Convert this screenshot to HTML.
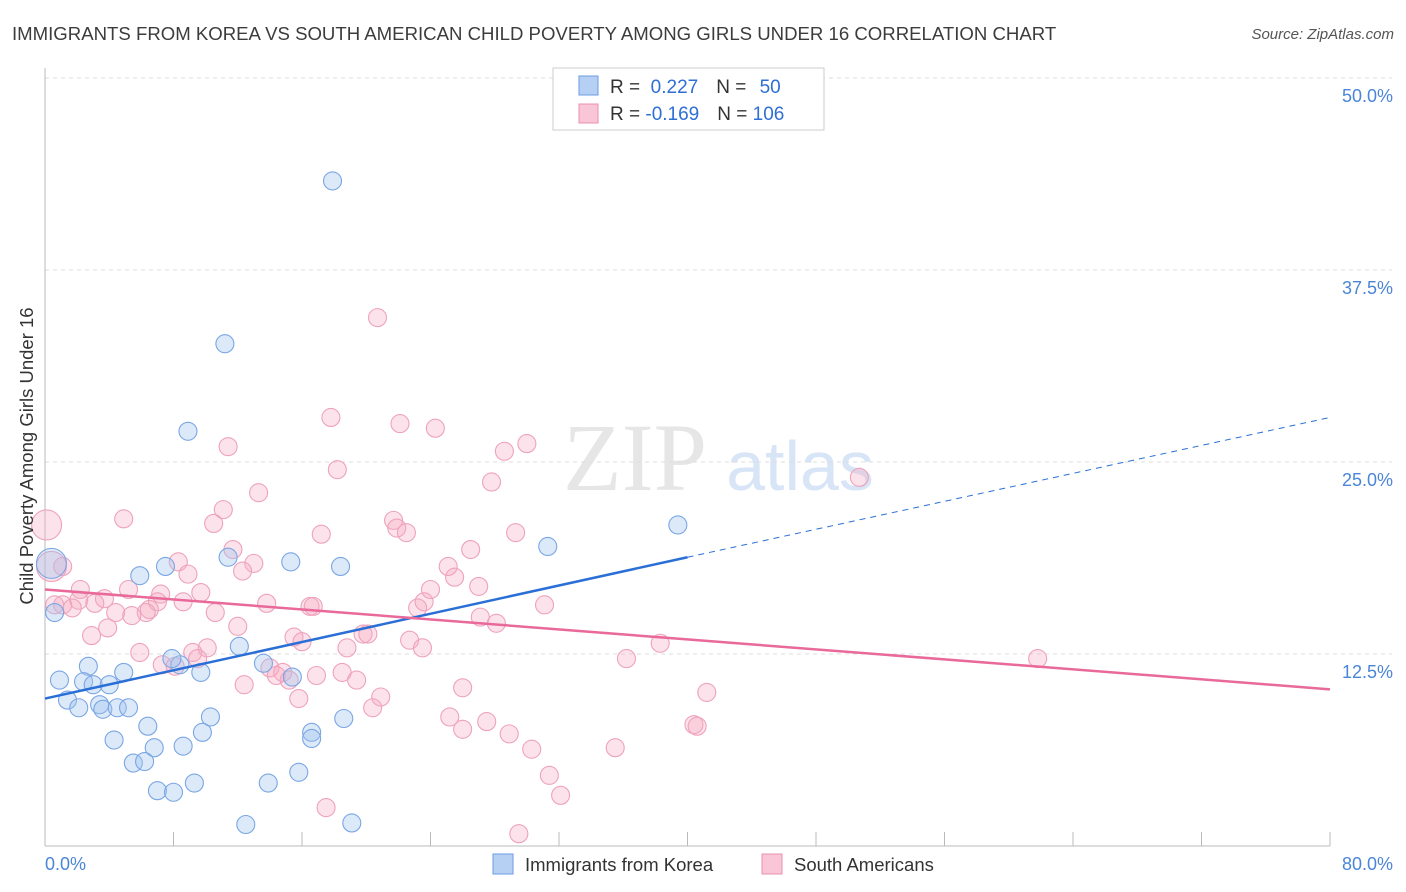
<!DOCTYPE html>
<html><head><meta charset="utf-8"><style>
body{margin:0;background:#fff;font-family:"Liberation Sans",sans-serif}
svg{display:block}
</style></head><body>
<svg id="chart" width="1406" height="892" xmlns="http://www.w3.org/2000/svg" font-family="Liberation Sans, sans-serif">
<text x="12" y="40" font-size="18.6" fill="#3c3c3c">IMMIGRANTS FROM KOREA VS SOUTH AMERICAN CHILD POVERTY AMONG GIRLS UNDER 16 CORRELATION CHART</text>
<text x="1394" y="39" font-size="15" fill="#555" text-anchor="end" font-style="italic">Source: ZipAtlas.com</text>
<g><text x="635" y="490" font-size="96" fill="#e6e6e6" text-anchor="middle" font-family="Liberation Serif, serif">ZIP</text><text x="800" y="490" font-size="70" fill="#d8e5f6" text-anchor="middle">atlas</text></g>
<g id="grid"></g><g id="axes"></g><g id="marks"></g><g id="trends"></g>
<text transform="translate(33,456) rotate(-90)" font-size="18.5" fill="#333" text-anchor="middle">Child Poverty Among Girls Under 16</text>
<g>
<rect x="553" y="68" width="271" height="62" fill="#fff" stroke="#ccc"/>
<rect x="579" y="76" width="19" height="19" fill="#b5d0f3" stroke="#6a9be0"/>
<rect x="579" y="104" width="19" height="19" fill="#f8c6d6" stroke="#e890ae"/>
<text x="610" y="93" font-size="19" fill="#333">R = <tspan fill="#2e6fd6">&#160;0.227</tspan><tspan dx="18">N = </tspan><tspan fill="#2e6fd6" dx="8">50</tspan></text>
<text x="610" y="120" font-size="19" fill="#333">R = <tspan fill="#2e6fd6">-0.169</tspan><tspan dx="18">N = </tspan><tspan fill="#2e6fd6">106</tspan></text>
</g>
<g>
<rect x="493" y="854" width="20" height="20" fill="#b5d0f3" stroke="#6a9be0"/>
<text x="525" y="871" font-size="18.5" fill="#333">Immigrants from Korea</text>
<rect x="762" y="854" width="20" height="20" fill="#f8c6d6" stroke="#e890ae"/>
<text x="794" y="871" font-size="18.5" fill="#333">South Americans</text>
</g>
</svg>
<script>
const yTicks=[12.5,25,37.5,50];
const yTickLabels=["12.5%","25.0%","37.5%","50.0%"];
const xTickLabels=["0.0%","80.0%"];
const koreaX=[17.9,11.2,8.9,39.4,31.3,11.4,15.3,18.4,7.5,5.9,0.4,0.6,8.4,7.9,9.7,4.9,2.7,0.9,2.4,3.0,4.0,1.4,2.1,3.4,3.6,4.5,5.2,12.1,13.6,15.4,6.4,10.3,9.8,4.3,6.8,8.6,16.6,16.6,18.6,5.5,6.2,7.0,8.0,9.3,13.9,15.8,12.5,19.1];
const koreaY=[43.3,32.7,27.0,20.9,19.5,18.8,18.5,18.2,18.2,17.6,18.4,15.2,11.8,12.2,11.3,11.3,11.7,10.8,10.7,10.5,10.5,9.5,9.0,9.2,8.9,9.0,9.0,13.0,11.9,11.0,7.8,8.4,7.4,6.9,6.4,6.5,7.4,7.0,8.3,5.4,5.5,3.6,3.5,4.1,4.1,4.8,1.4,1.5];
const koreaBig=[10];
const saX=[20.7,17.8,22.1,24.3,11.4,30.0,28.6,18.2,27.8,13.3,50.7,11.1,4.9,10.5,21.7,21.9,22.5,29.3,17.2,0.1,11.7,26.5,8.3,13.0,12.3,25.1,25.5,27.0,8.9,2.2,5.2,3.7,7.2,7.0,2.1,3.1,9.7,1.1,1.7,4.4,6.5,8.6,6.3,5.4,13.8,10.6,16.5,16.7,23.2,23.6,24.0,31.1,27.1,28.1,3.9,2.9,12.0,15.5,16.0,19.8,20.1,22.7,23.5,18.8,5.9,10.1,9.2,9.5,7.3,8.1,14.0,14.8,14.4,15.2,16.9,18.5,19.4,12.4,15.8,20.9,26.0,41.2,20.4,25.2,27.5,26.0,28.9,30.3,35.5,40.4,40.6,31.4,32.1,17.5,29.5,38.3,36.2,61.8,0.6,1.1,0.4];
const saY=[34.4,27.9,27.5,27.2,26.0,26.2,25.7,24.5,23.7,23.0,24.0,21.9,21.3,21.0,21.2,20.7,20.4,20.4,20.3,20.9,19.3,19.3,18.5,18.4,17.9,18.2,17.5,16.9,17.7,16.7,16.7,16.1,16.4,15.9,16.0,15.8,16.5,15.7,15.5,15.2,15.4,15.9,15.2,15.0,15.8,15.2,15.6,15.6,15.5,15.9,16.7,15.7,14.9,14.5,14.2,13.7,14.3,13.6,13.3,13.8,13.8,13.4,12.9,12.9,12.6,12.9,12.6,12.2,11.8,11.7,11.6,11.3,11.1,10.8,11.1,11.3,10.8,10.5,9.6,9.7,10.3,10.0,9.0,8.4,8.1,7.6,7.3,6.3,6.4,7.9,7.8,4.6,3.3,2.5,0.8,13.2,12.2,12.2,15.7,18.2,18.2];
const saBig=[19,100];
const koreaTrend=[9.6,18.8,27.9]; // at x=0,40,80
const saTrend=[16.7,10.2]; // at x=0,80
const NS="http://www.w3.org/2000/svg";
const X=v=>45+v*(1285/80), Y=v=>846-v*15.36;
function mk(t,a,p){const e=document.createElementNS(NS,t);for(const k in a)e.setAttribute(k,a[k]);p.appendChild(e);return e;}
const grid=document.getElementById('grid'),axes=document.getElementById('axes'),marks=document.getElementById('marks'),trends=document.getElementById('trends');
yTicks.forEach((t,i)=>{const l=mk('line',{x1:45,x2:1392,y1:Y(t),y2:Y(t),stroke:'#ddd','stroke-dasharray':'4,4'},grid);


const tx=mk('text',{x:1393,y:Y(t)+24,'font-size':18,fill:'#4a86d8','text-anchor':'end'},axes);tx.textContent=yTickLabels[i];

});
const ax=mk('line',{x1:45,x2:1330,y1:846,y2:846,stroke:'#bbb'},axes);


const ay=mk('line',{x1:45,x2:45,y1:68,y2:846,stroke:'#bbb'},axes);


for(let i=0;i<=10;i++){const t=mk('line',{x1:X(i*8),x2:X(i*8),y1:832,y2:846,stroke:'#bbb'},axes);

}
[[0,'start',45],[80,'end',1393]].forEach((d,i)=>{const t=mk('text',{x:d[2],y:870,'font-size':18,fill:'#4a86d8','text-anchor':d[1]},axes);t.textContent=xTickLabels[i];

});
saX.forEach((x,i)=>{const c=mk('circle',{cx:X(x),cy:Y(saY[i]),r:saBig.includes(i)?15:9,fill:'rgba(245,168,194,0.32)',stroke:'#eea2bc','stroke-width':1.1},marks);

});
koreaX.forEach((x,i)=>{const c=mk('circle',{cx:X(x),cy:Y(koreaY[i]),r:koreaBig.includes(i)?15:9,fill:'rgba(160,196,240,0.38)',stroke:'#7aa6e4','stroke-width':1.1},marks);

});
const k1=mk('line',{x1:X(0),y1:Y(koreaTrend[0]),x2:X(40),y2:Y(koreaTrend[1]),stroke:'#2a6fd6','stroke-width':2.5},trends);


const k2=mk('line',{x1:X(40),y1:Y(koreaTrend[1]),x2:X(80),y2:Y(koreaTrend[2]),stroke:'#2a6fd6','stroke-width':1,'stroke-dasharray':'6,5'},trends);


const s1=mk('line',{x1:X(0),y1:Y(saTrend[0]),x2:X(80),y2:Y(saTrend[1]),stroke:'#e8699a','stroke-width':2.5},trends);


</script>
</body></html>
